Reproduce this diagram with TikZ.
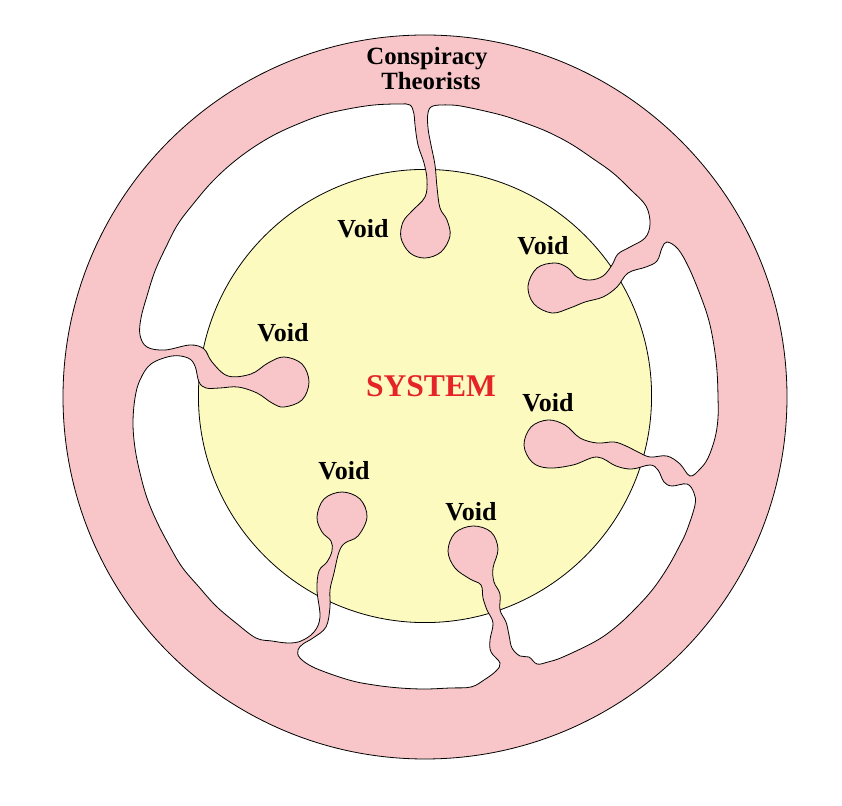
\documentclass[tikz,border=0pt]{standalone}
\usepackage{fontspec}
\setmainfont{Liberation Serif}
\usetikzlibrary{positioning}
\definecolor{ringpink}{HTML}{F8C5C8}
\definecolor{systemyellow}{HTML}{FDFAC0}
\definecolor{systemred}{HTML}{E52428}
\tikzset{
  rimline/.style={draw=black, line width=0.4pt},
  voidlabel/.style={anchor=base, inner sep=0pt, font=\bfseries\fontsize{13}{14}\selectfont},
  ringlabel/.style={anchor=base, inner sep=0pt, font=\bfseries\fontsize{12.4}{13}\selectfont},
  systemlabel/.style={anchor=base, inner sep=0pt, text=systemred, font=\bfseries\fontsize{15.8}{17}\selectfont}
}
% edge between the pink ring (with its feelers) and the rest
\def\innerrim{plot[smooth cycle, tension=0.6] coordinates {
  (433,106) (450,105) (466,107) (501,115) (525,123) (548,132) (571,144) (592,158) (613,173) (631,190) (646,206)
  (650,224) (645,238) (630,247) (618,254) (612,265) (603,276) (590,280) (577,277) (568,268)
  (555,263) (537,268) (528,286) (534,304) (552,313) (570,308)
  (585,302) (603,297) (617,287) (628,273) (646,267) (657,261) (662,248) (667,242)
  (678,249) (689,268) (701,297) (709,321) (714,346) (717,371) (718,397) (718,418) (715,438) (708,458) (700,469) (690,476)
  (680,464) (667,456) (650,457) (638,452) (626,446) (614,442) (597,443) (580,438) (565,425)
  (548,420) (531,427) (524,445) (532,462) (548,468)
  (573,465) (597,457) (616,466) (632,469) (650,465) (658,470) (664,482) (672,486) (687,484) (694,493)
  (695,505) (687,530) (680,545) (668,567) (653,589) (636,608) (617,626) (596,641) (563,657) (548,662) (537,664)
  (529,657) (520,656) (512,648) (509,635) (506,622) (500,610) (500,594) (494,582) (493,568)
  (498,549) (491,532) (473,526) (455,533) (448,551) (455,568) (470,579)
  (481,585) (483,598) (487,610) (493,623) (490,640) (491,652) (500,663) (496,671) (484,680) (471,687)
  (450,688) (425,689) (400,688) (374,685) (349,680) (315,668) (300,658) (298,650) (303,644) (313,638) (326,627)
  (330,607) (330,590) (334,573) (339,552) (345,543) (358,536)
  (367,517) (360,499) (342,492) (324,499) (317,517) (322,532) (331,541)
  (332,551) (327,562) (319,571) (317,590) (320,617) (314,632) (301,641) (288,643)
  (272,641) (256,638) (236,623) (216,606) (199,587) (182,567) (169,545) (157,522) (147,498) (140,473) (135,448) (133,423) (135,398)
  (140,380) (151,364) (172,356) (188,358) (195,366) (199,382) (206,388) (220,388) (238,387)
  (257,393) (272,403)
  (284,407) (302,400) (309,382) (302,364) (284,357) (268,363)
  (251,374) (228,376) (212,362) (204,349) (190,345) (165,350) (147,347) (140,335) (141,318)
  (147,296) (155,271) (166,247) (178,224) (194,203) (211,183) (230,165) (251,149) (274,135) (298,124) (322,115) (348,109) (374,105)
  (399,104) (410,105) (414,114)
  (415,125) (418,145) (424,163) (427,180) (425,197) (412,211)
  (403,222) (401,238) (410,253) (425,258) (441,252) (450,236) (447,220) (440,208)
  (437,187) (435,165) (431,145) (428,128) (428,113)}}

\begin{document}
\begin{tikzpicture}[x=0.5pt,y=-0.5pt]
  \useasboundingbox (0,0) rectangle (842,806);
  \coordinate (hub) at (425,397);
  \coordinate (core) at (425,396);
  % ring, holes and the system
  \fill[ringpink, rimline] (hub) circle[radius=181pt];
  \fill[white] \innerrim;
  \begin{scope}
    \clip \innerrim;
    \fill[systemyellow, rimline] (core) circle[radius=113.3pt];
  \end{scope}
  \draw[rimline] \innerrim;
  % labels
  \node[ringlabel] (conspiracy) at (427,65) {Conspiracy};
  \node[ringlabel] (theorists) at (431,90) {Theorists};
  \node[systemlabel] (system) at (431,397) {SYSTEM};
  \node[voidlabel] (voidtop) at (363,238) {Void};
  \node[voidlabel] (voidupright) at (543,255) {Void};
  \node[voidlabel] (voidright) at (548,412) {Void};
  \node[voidlabel] (voidleft) at (283,342) {Void};
  \node[voidlabel] (voiddownleft) at (344,480) {Void};
  \node[voidlabel] (voiddownright) at (471,521) {Void};
\end{tikzpicture}
\end{document}
